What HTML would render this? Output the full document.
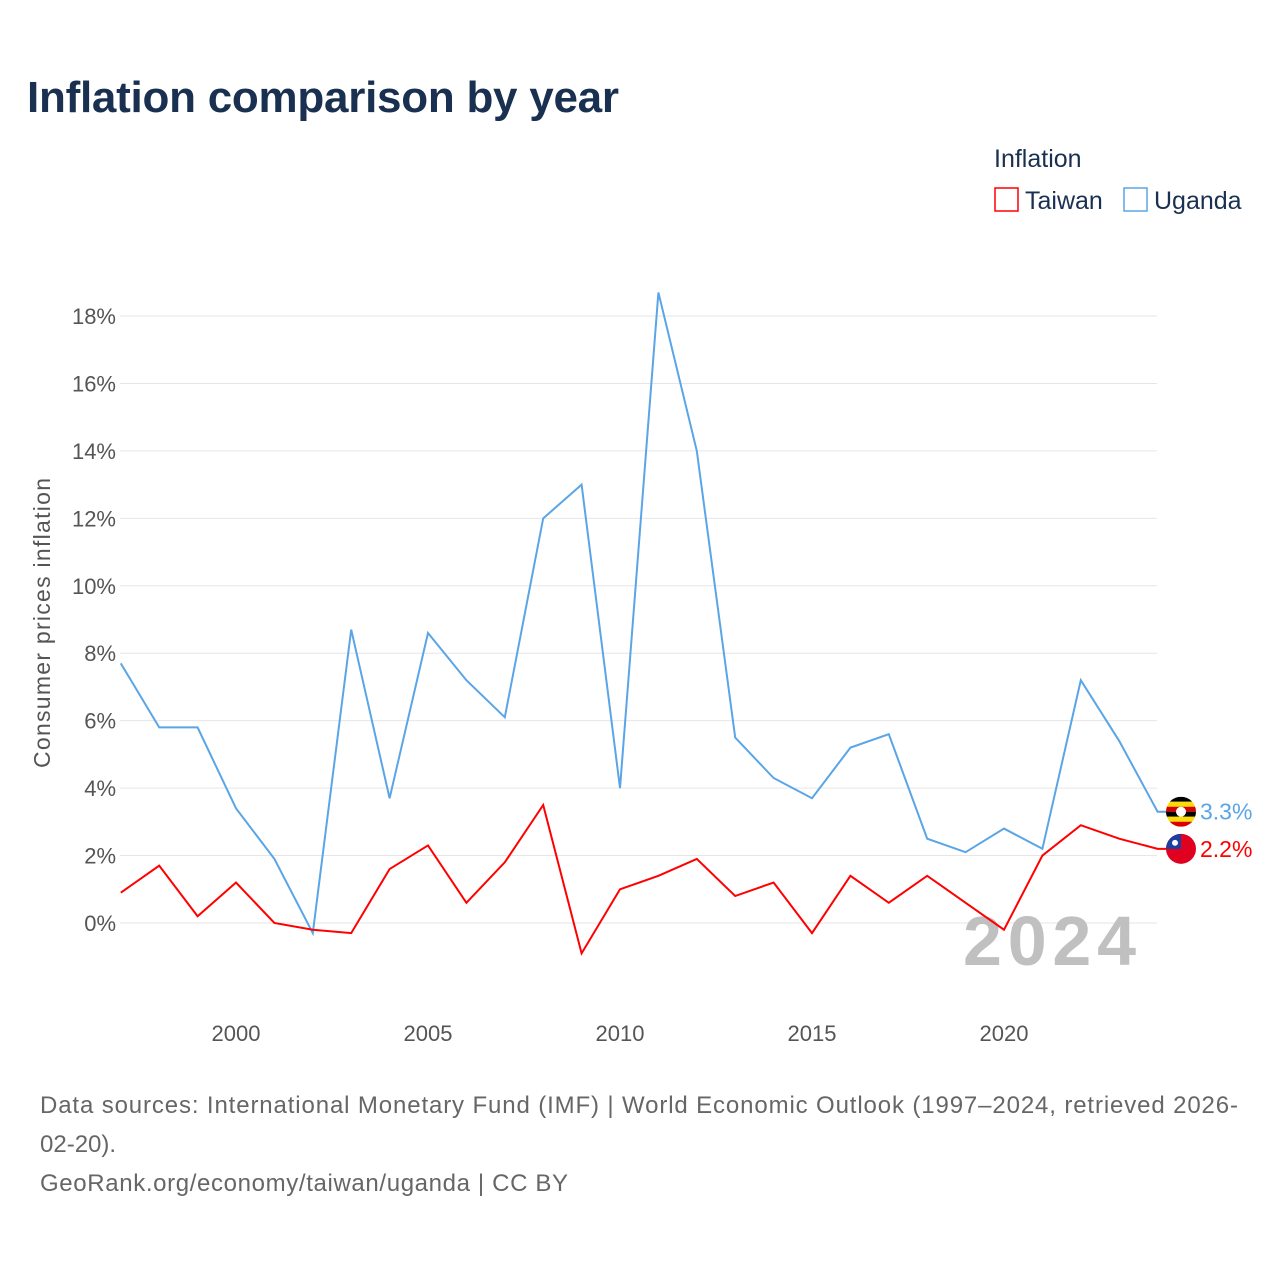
<!DOCTYPE html>
<html><head><meta charset="utf-8"><style>
body{margin:0;background:#fff;width:1280px;height:1280px;overflow:hidden;font-family:"Liberation Sans",sans-serif}
svg text{font-family:"Liberation Sans",sans-serif}
</style></head><body>
<svg width="1280" height="1280">
<text x="27" y="112" font-size="44" font-weight="bold" fill="#1a3050" textLength="592">Inflation comparison by year</text>
<text x="994" y="167" font-size="25" fill="#1a3050">Inflation</text>
<g><rect x="995" y="188" width="23" height="23" fill="none" stroke="#ff0000" stroke-width="1.5"/><text x="1025" y="209" font-size="25" fill="#1a3050">Taiwan</text></g>
<g><rect x="1124" y="188" width="23" height="23" fill="none" stroke="#5aa5e6" stroke-width="1.5"/><text x="1154" y="209" font-size="25" fill="#1a3050">Uganda</text></g>
<g id="grid"></g>
<g id="xt"></g>
<text x="963" y="965" font-size="70" font-weight="bold" fill="#c0c0c0" textLength="173">2024</text>
<text transform="translate(50,623) rotate(-90)" text-anchor="middle" font-size="23" fill="#555" textLength="290">Consumer prices inflation</text>
<polyline id="ug" fill="none" stroke="#5aa5e6" stroke-width="2"/>
<polyline id="tw" fill="none" stroke="#ff0000" stroke-width="2"/>
<g id="ends"></g>
<text x="40" y="1113" font-size="24" fill="#666" textLength="1198">Data sources: International Monetary Fund (IMF) | World Economic Outlook (1997–2024, retrieved 2026-</text>
<text x="40" y="1152" font-size="24" fill="#666">02-20).</text>
<text x="40" y="1191" font-size="24" fill="#666" textLength="528">GeoRank.org/economy/taiwan/uganda | CC BY</text>
</svg>
<script>
const years=[1997,1998,1999,2000,2001,2002,2003,2004,2005,2006,2007,2008,2009,2010,2011,2012,2013,2014,2015,2016,2017,2018,2019,2020,2021,2022,2023,2024];
const uganda=[7.7,5.8,5.8,3.4,1.9,-0.3,8.7,3.7,8.6,7.2,6.1,12.0,13.0,4.0,18.7,14.0,5.5,4.3,3.7,5.2,5.6,2.5,2.1,2.8,2.2,7.2,5.4,3.3];
const taiwan=[0.9,1.7,0.2,1.2,0.0,-0.2,-0.3,1.6,2.3,0.6,1.8,3.5,-0.9,1.0,1.4,1.9,0.8,1.2,-0.3,1.4,0.6,1.4,0.6,-0.2,2.0,2.9,2.5,2.2];
const yTicks=[0,2,4,6,8,10,12,14,16,18];
const xTicks=[2000,2005,2010,2015,2020];
const NS="http://www.w3.org/2000/svg";
const X=y=>120.8+(y-1997)*38.4;
const Y=v=>923-v*33.72;
function mk(t,a,p){const e=document.createElementNS(NS,t);for(const k in a)e.setAttribute(k,a[k]);p.appendChild(e);return e;}
const g=document.getElementById('grid');
yTicks.forEach(v=>{
 const l=mk('line',{x1:120,x2:1157,y1:Y(v),y2:Y(v),stroke:'#e6e6e6','stroke-width':1},g);
 
 
 const t=mk('text',{x:116,y:Y(v)+8,'text-anchor':'end','font-size':22,fill:'#555'},g);
 t.textContent=v+'%';
 
 
});
const xt=document.getElementById('xt');
xTicks.forEach(y=>{
 const t=mk('text',{x:X(y),y:1041,'text-anchor':'middle','font-size':22,fill:'#555'},xt);
 t.textContent=y;
 
 
});
document.getElementById('ug').setAttribute('points',years.map((y,i)=>X(y)+','+Y(uganda[i])).join(' ')+' '+(X(2024)+12)+','+Y(uganda[27]));
document.getElementById('tw').setAttribute('points',years.map((y,i)=>X(y)+','+Y(taiwan[i])).join(' ')+' '+(X(2024)+12)+','+Y(taiwan[27]));
const en=document.getElementById('ends');
function endLabel(v,col,name,flag){
 const cy=Y(v);
 const fg=mk('g',{},en);
 
 
 if(flag==='ug'){
  const cp=mk('clipPath',{id:'cug'},fg);mk('circle',{cx:1181,cy:cy,r:15},cp);
  const gg=mk('g',{'clip-path':'url(#cug)'},fg);
  ['#000','#fcdc04','#d90000','#000','#fcdc04','#d90000'].forEach((c,i)=>mk('rect',{x:1166,y:cy-15+i*5,width:30,height:5,fill:c},gg));
  mk('circle',{cx:1181,cy:cy,r:5,fill:'#fff'},gg);
 }else{
  mk('circle',{cx:1181,cy:cy,r:15,fill:'#e00020'},fg);
  mk('path',{d:`M1166 ${cy} A15 15 0 0 1 1181 ${cy-15} L1181 ${cy} Z`,fill:'#1e3fa0'},fg);
  mk('circle',{cx:1175,cy:cy-6,r:3,fill:'#fff'},fg);
 }
 const t=mk('text',{x:1200,y:cy+8,'font-size':23,fill:col},en);
 t.textContent=v.toFixed(1)+'%';
 
 
}
endLabel(uganda[27],'#5aa5e6','uganda','ug');
endLabel(taiwan[27],'#ff0000','taiwan','tw');
</script>
</body></html>
